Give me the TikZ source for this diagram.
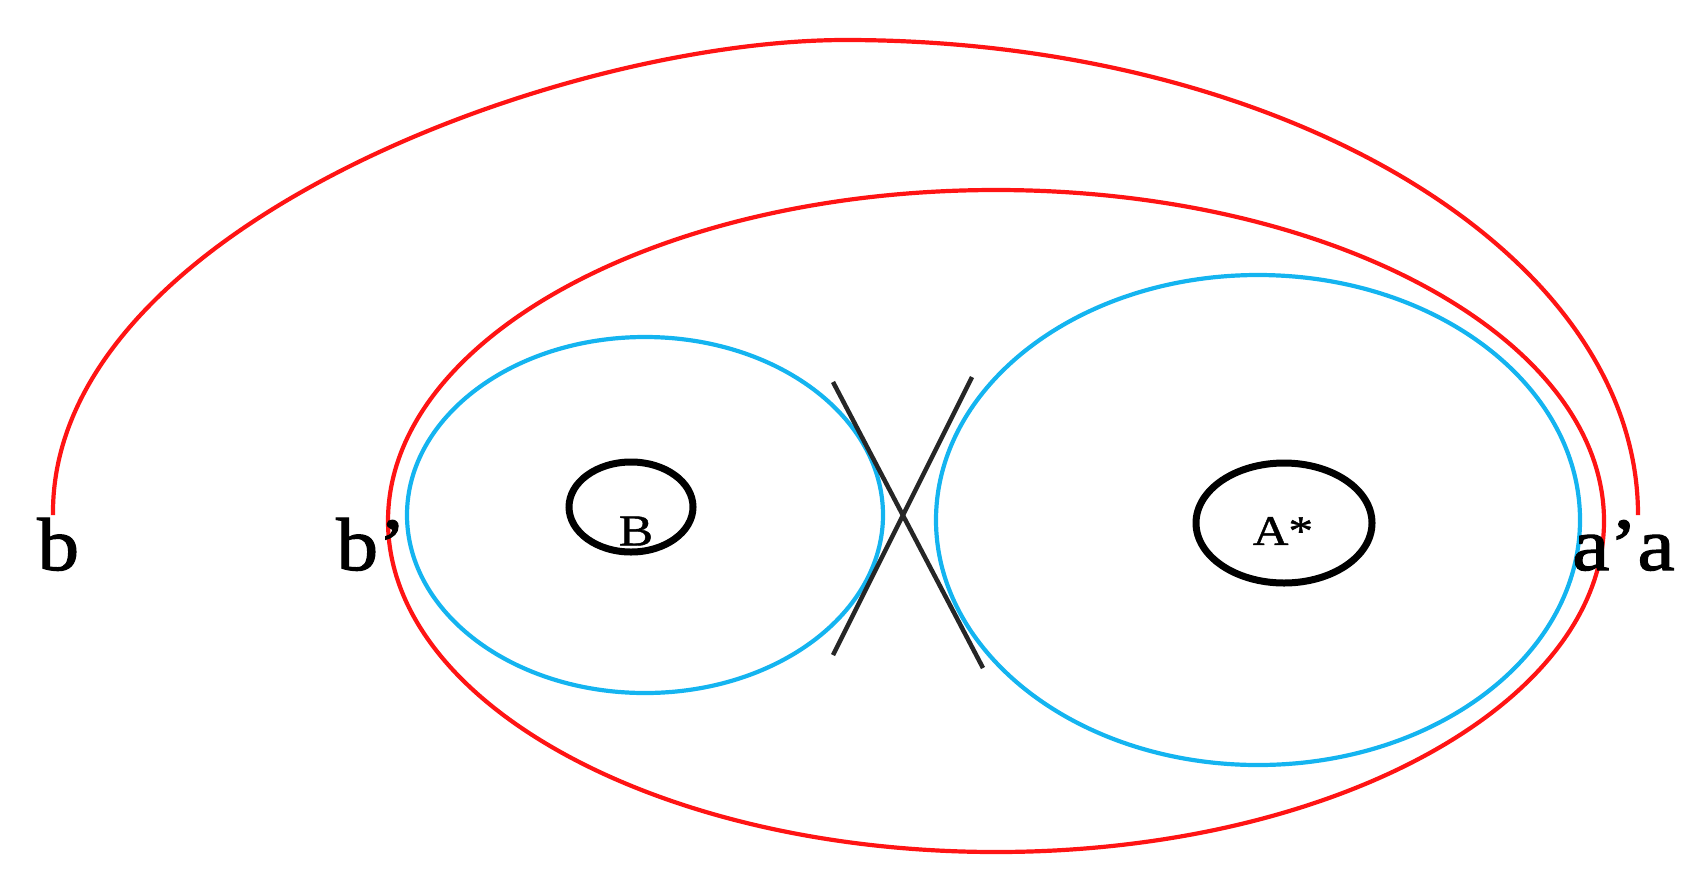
\documentclass[tikz,border=0pt]{standalone}
\usepackage{fontspec}
\setmainfont{Liberation Serif}
\newfontfamily\widefont[FakeStretch=1.17, FakeBold=1]{Liberation Serif}
\newfontfamily\labelfont[FakeStretch=1.12, FakeBold=1.5]{Liberation Serif}
\definecolor{myred}{RGB}{255,20,20}
\definecolor{myblue}{RGB}{20,180,240}
\tikzset{
  redline/.style={draw=myred, line width=4.2pt},
  blueline/.style={draw=myblue, line width=4.2pt},
  blackring/.style={draw=black, line width=7pt},
  crossline/.style={draw=black!85, line width=4.5pt},
  biglabel/.style={inner sep=0pt, anchor=base west, font=\labelfont\fontsize{75}{80}\selectfont},
  innerlabel/.style={inner sep=0pt, anchor=center}
}
\begin{document}
\begin{tikzpicture}[x=1pt,y=-1pt]
\useasboundingbox (0,0) rectangle (1699,895);
% outer red arc
\coordinate (ostart) at (53,515);
\coordinate (otop) at (845.5,40);
\draw[redline] (ostart) .. controls (50,230) and (560,40) .. (otop)
  arc[start angle=270, end angle=360, x radius=792.5, y radius=475];
% inner red ellipse
\draw[redline] (996,521) ellipse[x radius=608, y radius=331];
% blue ellipses
\draw[blueline] (645,515) ellipse[x radius=238, y radius=178];
\draw[blueline] (1258,520) ellipse[x radius=322, y radius=245];
% black rings
\draw[blackring] (631,507) ellipse[x radius=62, y radius=45];
\draw[blackring] (1284,523) ellipse[x radius=88, y radius=60];
% cross
\coordinate (x1a) at (833,382);
\coordinate (x1b) at (983,668);
\coordinate (x2a) at (972,377);
\coordinate (x2b) at (833,655);
\draw[crossline] (x1a) -- (x1b);
\draw[crossline] (x2a) -- (x2b);
% labels
\node[biglabel] (lb) at (37,570) {b};
\node[biglabel] (lbp) at (336,570) {b’};
\node[biglabel] (laa) at (1572,570) {a’a};
\node[innerlabel, font=\widefont\fontsize{44}{48}\selectfont] (lB) at (636,531) {B};
\node[innerlabel, font=\widefont\fontsize{42}{46}\selectfont] (lA) at (1283,531) {A*};
\end{tikzpicture}
\end{document}
